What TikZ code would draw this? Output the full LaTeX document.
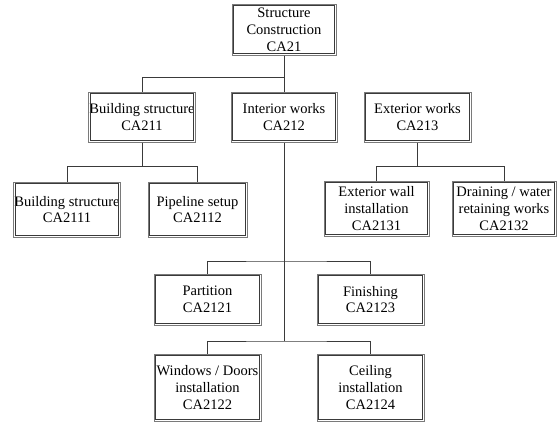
\documentclass[tikz,border=0pt]{standalone}
\usepackage{fontspec}
\setmainfont{Liberation Serif}
\definecolor{boxln}{HTML}{7A7A7A}
\definecolor{boxin}{HTML}{3A3A3A}
\definecolor{conn}{HTML}{3A3A3A}

\begin{document}
\begin{tikzpicture}[
      x=1pt, y=-1pt,
      wbs/.style={draw=boxln, line width=1pt, rectangle,
        align=center, inner sep=1pt, font=\fontsize{14.5}{16.8}\selectfont},
      inframe/.style={draw=boxin, line width=0.8pt},
      link/.style={draw=conn, line width=0.9pt},
    ]
    \useasboundingbox (0,0) rectangle (558,424);
    % level 0 and 1
    \node[wbs,minimum width=104pt,minimum height=51pt] (root) at (284,29.5) {Structure\\Construction\\CA21};
    \node[wbs,minimum width=104pt,minimum height=50pt] (bldg) at (142,117) {Building structure\\CA211};
    \node[wbs,minimum width=106pt,minimum height=50pt] (intw) at (284,117) {Interior works\\CA212};
    \node[wbs,minimum width=107pt,minimum height=50pt] (extw) at (417.5,117) {Exterior works\\CA213};
    % level 2
    \node[wbs,minimum width=106pt,minimum height=55pt] (bldgA) at (67,209.5) {Building structure\\CA2111};
    \node[wbs,minimum width=99pt,minimum height=55pt] (pipe) at (197.5,209.5) {Pipeline setup\\CA2112};
    \node[wbs,minimum width=105pt,minimum height=55pt] (wall) at (376.5,208.5) {Exterior wall\\installation\\CA2131};
    \node[wbs,minimum width=104pt,minimum height=55pt] (drain) at (504,208.5) {Draining / water\\retaining works\\CA2132};
    \node[wbs,minimum width=107pt,minimum height=51pt] (part) at (207.5,299.5) {Partition\\CA2121};
    \node[wbs,minimum width=107pt,minimum height=51pt] (fini) at (370.5,299.5) {Finishing\\CA2123};
    \node[wbs,minimum width=107pt,minimum height=67pt] (wind) at (207.5,387.5) {Windows / Doors\\installation\\CA2122};
    \node[wbs,minimum width=107pt,minimum height=67pt] (ceil) at (370.5,387.5) {Ceiling\\installation\\CA2124};
    % inner frame of each box
    \foreach \n in {root,bldg,intw,extw,bldgA,pipe,wall,drain,part,fini,wind,ceil}{
      \draw[inframe] ([xshift=2.2pt,yshift=-2.2pt]\n.north west) rectangle ([xshift=-2.2pt,yshift=2.2pt]\n.south east);
    }
    % connectors
    \coordinate (jA) at (284,261);
    \coordinate (jB) at (284,341);
    \draw[link] (root.south) -- ++(0,22) -| (bldg.north);
    \draw[link] (root.south) -- (intw.north);
    \draw[link] (bldg.south) -- ++(0,24) -| (bldgA.north);
    \draw[link] (bldg.south) -- ++(0,24) -| (pipe.north);
    \draw[link] (extw.south) -- ++(0,24) -| (wall.north);
    \draw[link] (extw.south) -- ++(0,24) -| (drain.north);
    \draw[link] (intw.south) -- (jB);
    \draw[link] (part.north) |- (jA) -| (fini.north);
    \draw[link] (wind.north) |- (jB) -| (ceil.north);
  \end{tikzpicture}
\end{document}
